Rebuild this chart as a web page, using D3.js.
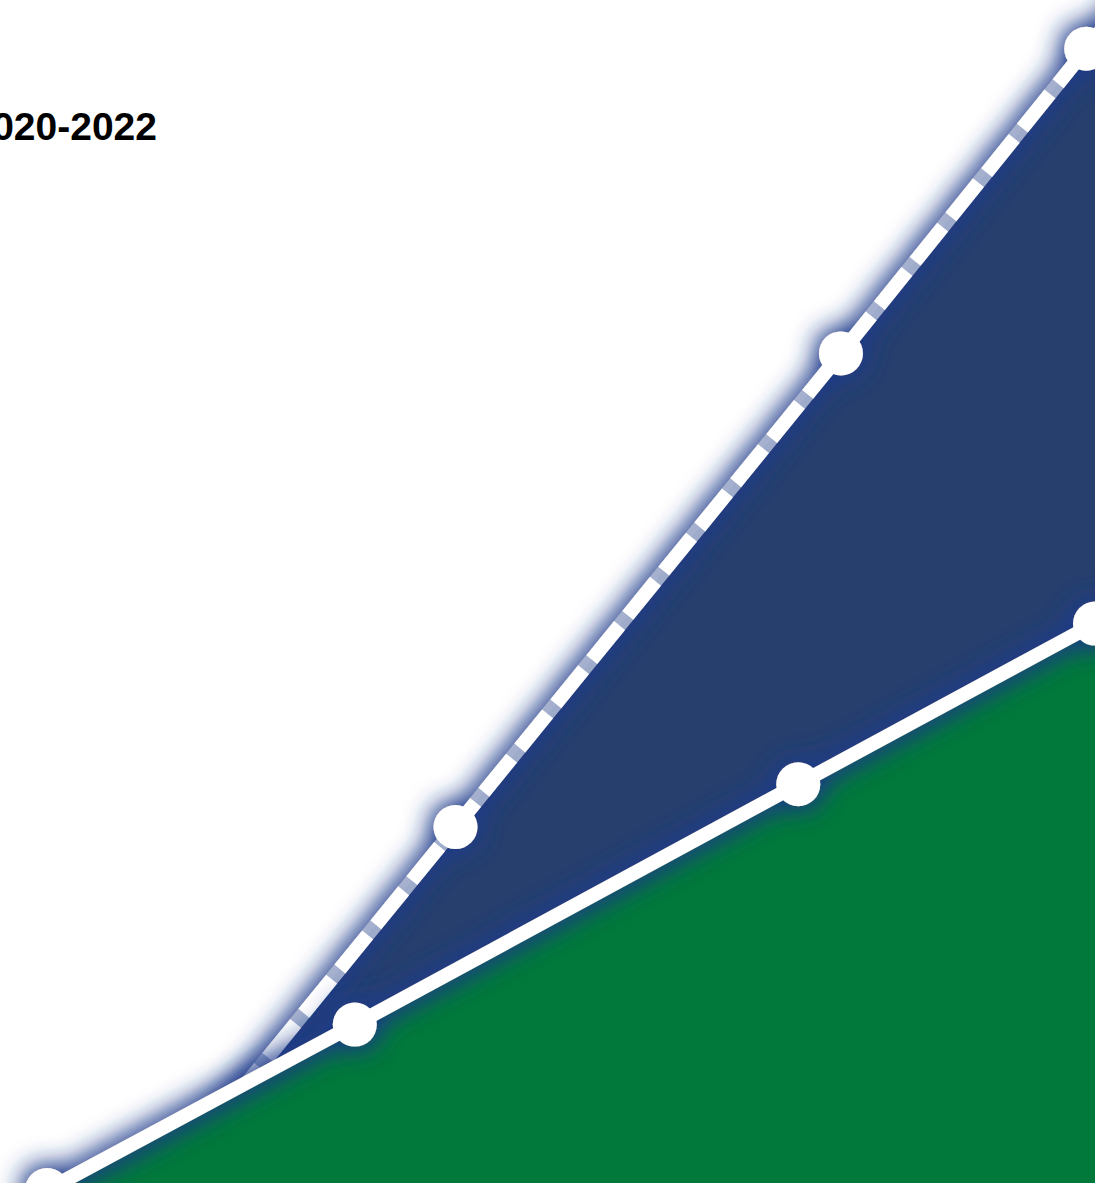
<!DOCTYPE html>
<html>
<head>
<meta charset="utf-8">
<script src="https://cdn.jsdelivr.net/npm/d3@7"></script>
<style>
  html, body { margin: 0; padding: 0; background: #fff; overflow: hidden; }
  svg { display: block; }
</style>
</head>
<body>
<svg></svg>
<script>
// values (x and y on a 0-100 scale, last points run past the edge)
const title = '2020-2022';
const greenX = [4.3, 32.4, 72.9, 100, 125];
const greenY = [0, 13.9, 34.1, 47.6, 60.0];
const navyX = [14.6, 41.6, 76.8, 99.2, 115];
const navyY = [0, 30.5, 70.3, 95.9, 113.9];

let width = 1095;
let height = 1183;

let svg = d3.select('svg').attr('width', width).attr('height', height);

let x = d3.scaleLinear().domain([0, 100]).range([0, 1095]);
let y = d3.scaleLinear().domain([0, 100]).range([1190, 0]);

let green = greenX.map((v, i) => ({ x: v, y: greenY[i] }));
let navy = navyX.map((v, i) => ({ x: v, y: navyY[i] }));

// soft blue glow round lines + markers
let defs = svg.append('defs');
let f = defs
  .append('filter')
  .attr('id', 'glow')
  .attr('filterUnits', 'userSpaceOnUse')
  .attr('x', -300)
  .attr('y', -500)
  .attr('width', 2000)
  .attr('height', 2000);
f.append('feMorphology')
  .attr('in', 'SourceAlpha')
  .attr('operator', 'dilate')
  .attr('radius', 3)
  .attr('result', 'd');
f.append('feGaussianBlur').attr('in', 'd').attr('stdDeviation', 13).attr('result', 'b');
f.append('feComponentTransfer')
  .attr('in', 'b')
  .attr('result', 'b2')
  .append('feFuncA')
  .attr('type', 'linear')
  .attr('slope', 1.5);
f.append('feFlood').attr('flood-color', '#1c3a8a').attr('flood-opacity', 0.78);
f.append('feComposite').attr('in2', 'b2').attr('operator', 'in').attr('result', 's');
let m = f.append('feMerge');
m.append('feMergeNode').attr('in', 's');
m.append('feMergeNode').attr('in', 'SourceGraphic');

let area = d3
  .area()
  .x((d) => x(d.x))
  .y0(y(0) + 40)
  .y1((d) => y(d.y));
let line = d3
  .line()
  .x((d) => x(d.x))
  .y((d) => y(d.y));

// navy series
svg.append('path').datum(navy).attr('d', area).attr('fill', '#263f6d');
let gNavy = svg.append('g').attr('filter', 'url(#glow)');
gNavy
  .append('path')
  .datum(navy)
  .attr('d', line)
  .attr('fill', 'none')
  .attr('stroke', '#a7b4d2')
  .attr('stroke-opacity', 0.9)
  .attr('stroke-width', 14);
gNavy
  .append('path')
  .datum(navy)
  .attr('d', line)
  .attr('fill', 'none')
  .attr('stroke', '#fff')
  .attr('stroke-width', 14)
  .attr('stroke-dasharray', '44,13');
gNavy
  .selectAll('circle')
  .data(navy)
  .enter()
  .append('circle')
  .attr('cx', (d) => x(d.x))
  .attr('cy', (d) => y(d.y))
  .attr('r', 22)
  .attr('fill', '#fff');

// green series on top
svg.append('path').datum(green).attr('d', area).attr('fill', '#01793a');
let gGreen = svg.append('g').attr('filter', 'url(#glow)');
gGreen
  .append('path')
  .datum(green)
  .attr('d', line)
  .attr('fill', 'none')
  .attr('stroke', '#fff')
  .attr('stroke-width', 14);
gGreen
  .selectAll('circle')
  .data(green)
  .enter()
  .append('circle')
  .attr('cx', (d) => x(d.x))
  .attr('cy', (d) => y(d.y))
  .attr('r', 22)
  .attr('fill', '#fff');

// title (cut by the left edge, as in the reference)
svg
  .append('text')
  .attr('x', 157)
  .attr('y', 140)
  .attr('text-anchor', 'end')
  .style('font-family', '"Liberation Sans", Arial, sans-serif')
  .style('font-weight', 'bold')
  .style('font-size', '39px')
  .attr('fill', '#000')
  .text(title);
</script>
</body>
</html>
